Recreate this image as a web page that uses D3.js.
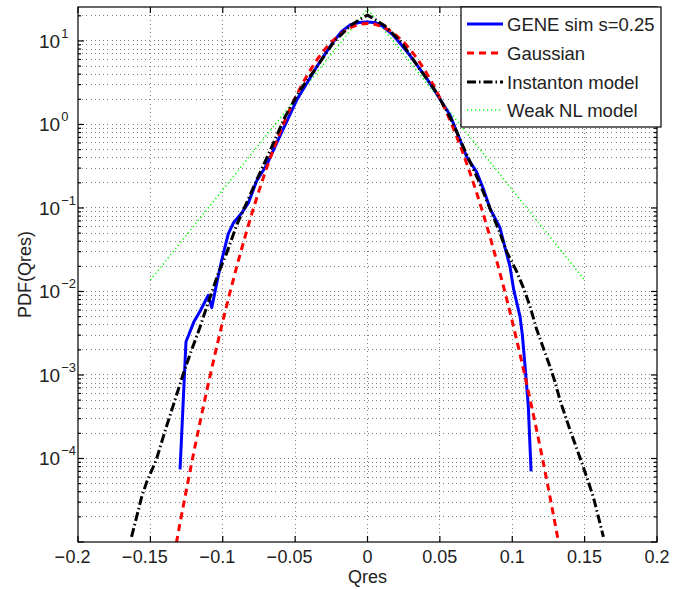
<!DOCTYPE html>
<html><head><meta charset="utf-8">
<script src="https://cdn.jsdelivr.net/npm/d3@7"></script>
<style>body{margin:0;background:#fff}svg{display:block}text{font-family:"Liberation Sans",Arial,Helvetica,sans-serif;fill:#222}</style>
</head><body>
<svg id="c" width="692" height="589"></svg>
<script>
// ---- data ----
const geneX = [-0.1295,-0.1254,-0.1200,-0.1157,-0.1100,-0.1076,-0.1042,-0.1007,-0.0962,-0.0927,-0.0869,-0.0823,-0.0766,-0.0696,-0.0594,-0.0489,-0.0420,-0.0351,-0.0290,-0.0236,-0.0180,-0.0122,-0.006,0,0.006,0.011,0.0170,0.0225,0.0285,0.034,0.0400,0.0455,0.051,0.057,0.0625,0.0685,0.0754,0.0800,0.0846,0.0915,0.0955,0.0984,0.1010,0.1054,0.1070,0.1088,0.1111,0.1130];
const geneY = [7.4e-5,2.5e-3,4.3e-3,5.8e-3,9.0e-3,6.4e-3,0.0125,0.0238,0.049,0.066,0.087,0.115,0.21,0.33,0.80,1.96,3.1,4.9,7.1,9.8,12.9,15.5,16.6,16.9,16.5,14.8,12.1,9.4,7.0,5.2,3.75,2.7,1.9,1.3,0.75,0.41,0.27,0.17,0.099,0.058,0.031,0.020,0.0105,5.0e-3,3.0e-3,1.3e-3,4.2e-4,7.0e-5];

const gaussX = [-0.135,-0.13,-0.125,-0.12,-0.115,-0.11,-0.105,-0.10,-0.095,-0.09,-0.085,-0.08,-0.075,-0.07,-0.065,-0.06,-0.055,-0.05,-0.045,-0.04,-0.035,-0.03,-0.025,-0.02,-0.015,-0.01,-0.005,0,0.005,0.01,0.015,0.02,0.025,0.03,0.035,0.04,0.045,0.05,0.055,0.06,0.065,0.07,0.075,0.08,0.085,0.09,0.095,0.10,0.105,0.11,0.115,0.12,0.125,0.13,0.135];
const gaussY = [5.1e-6,1.52e-5,4.34e-5,1.19e-4,3.11e-4,7.84e-4,1.89e-3,4.40e-3,9.79e-3,0.0209,0.0429,0.0845,0.160,0.290,0.504,0.842,1.35,2.08,3.07,4.35,5.92,7.73,9.68,11.6,13.45,14.9,15.85,16.2,15.85,14.9,13.45,11.6,9.68,7.73,5.92,4.35,3.07,2.08,1.35,0.842,0.504,0.290,0.160,0.0845,0.0429,0.0209,9.79e-3,4.40e-3,1.89e-3,7.84e-4,3.11e-4,1.19e-4,4.34e-5,1.52e-5,5.1e-6];

const instX = [-0.163,-0.156,-0.1525,-0.146,-0.1395,-0.133,-0.127,-0.1215,-0.116,-0.110,-0.103,-0.0975,-0.090,-0.0835,-0.0766,-0.0685,-0.057,-0.047,-0.035,-0.0236,-0.0122,-0.005,0,0.005,0.0122,0.0236,0.035,0.047,0.057,0.0685,0.0766,0.0836,0.0915,0.0961,0.103,0.1076,0.1123,0.1169,0.1261,0.1295,0.133,0.1399,0.1445,0.1491,0.156,0.163];
const instY = [1.15e-5,3.47e-5,5.25e-5,9.55e-5,2.24e-4,5.01e-4,1.07e-3,2.0e-3,3.63e-3,7.41e-3,0.0166,0.0282,0.0646,0.115,0.216,0.437,1.23,2.51,4.90,9.55,15.1,18.2,20.4,18.2,15.1,9.55,4.90,2.51,1.23,0.437,0.216,0.109,0.050,0.030,0.0174,0.0112,6.6e-3,3.5e-3,1.26e-3,8.3e-4,5.0e-4,2.19e-4,1.32e-4,7.9e-5,3.47e-5,1.15e-5];

const weakX = [-0.15,-0.125,-0.1,-0.075,-0.05,-0.025,0,0.025,0.05,0.075,0.1,0.125,0.15];
const weakY = [0.0137,0.0476,0.165,0.574,1.99,6.93,24.1,6.93,1.99,0.574,0.165,0.0476,0.0137];

const xTicks = [-0.2,-0.15,-0.1,-0.05,0,0.05,0.1,0.15,0.2];
const yTickExp = [-4,-3,-2,-1,0,1];
const legendLabels = ["GENE sim s=0.25","Gaussian","Instanton model","Weak NL model"];

// ---- layout ----
const L=78,R=657,T=7,B=542;
const svg=d3.select("#c");
const x=d3.scaleLinear().domain([-0.2,0.2]).range([L,R]);
const y=d3.scaleLog().domain([1e-5,25.5]).range([B,T]);

svg.append("defs").append("clipPath").attr("id","clip").append("rect")
  .attr("x",L).attr("y",T).attr("width",R-L).attr("height",B-T);

// grid
const grid=svg.append("g").attr("stroke","#000").attr("stroke-opacity",0.5).attr("stroke-width",1).attr("stroke-dasharray","1,3.2").attr("fill","none").attr("shape-rendering","crispEdges");
xTicks.slice(1,-1).forEach(v=>grid.append("line").attr("x1",x(v)).attr("x2",x(v)).attr("y1",T).attr("y2",B));
const yMinor=[];
for(let e=-5;e<=1;e++){for(let m=1;m<=9;m++){const v=m*Math.pow(10,e);if(v>1e-5&&v<25.5)yMinor.push({v,major:m===1});}}
yMinor.forEach(d=>grid.append("line").attr("x1",L).attr("x2",R).attr("y1",y(d.v)).attr("y2",y(d.v)));

// series
const plot=svg.append("g").attr("clip-path","url(#clip)");
function draw(xs,ys,stroke,w,dash){
  const pts=xs.map((v,i)=>[v,ys[i]]);
  const line=d3.line().x(d=>x(d[0])).y(d=>y(d[1]));
  const p=plot.append("path").attr("d",line(pts)).attr("fill","none").attr("stroke",stroke).attr("stroke-width",w).attr("stroke-linejoin","round");
  if(dash)p.attr("stroke-dasharray",dash);
}
draw(weakX,weakY,"#00ff00",1.6,"1.2,2.8");
draw(geneX,geneY,"#0000ff",3,null);
draw(gaussX,gaussY,"#ff0000",3,"7,5");
draw(instX,instY,"#000000",3,"9,3,1.5,3");

// axes frame + ticks
const ax=svg.append("g").attr("stroke","#000").attr("stroke-width",1.2).attr("fill","none");
ax.append("rect").attr("x",L).attr("y",T).attr("width",R-L).attr("height",B-T);
xTicks.forEach(v=>{
  ax.append("line").attr("x1",x(v)).attr("x2",x(v)).attr("y1",B).attr("y2",B-6);
  ax.append("line").attr("x1",x(v)).attr("x2",x(v)).attr("y1",T).attr("y2",T+6);
});
yMinor.concat([{v:1e-5,major:true}]).forEach(d=>{
  const len=d.major?6:3;
  ax.append("line").attr("x1",L).attr("x2",L+len).attr("y1",y(d.v)).attr("y2",y(d.v));
  ax.append("line").attr("x1",R).attr("x2",R-len).attr("y1",y(d.v)).attr("y2",y(d.v));
});

// x tick labels (number centred on tick, minus hanging to the left)
xTicks.forEach(v=>{
  const s=Math.abs(v).toString();
  const t=svg.append("text").attr("x",x(v)).attr("y",563).attr("text-anchor","middle").attr("font-size",18).text(s);
  if(v<0){
    const w=t.node().getComputedTextLength();
    svg.append("text").attr("x",x(v)-w/2-0.5).attr("y",563).attr("text-anchor","end").attr("font-size",18).text("\u2212");
  }
});
// y tick labels 10^e
yTickExp.forEach(e=>{
  const yy=y(Math.pow(10,e));
  const t=svg.append("text").attr("x",39).attr("y",yy+7).attr("font-size",19);
  t.append("tspan").text("10");
  t.append("tspan").attr("font-size",13).attr("dy",-10).attr("dx",1).text(e<0?"\u2212"+Math.abs(e):String(e));
});

// axis labels
svg.append("text").attr("x",(L+R)/2).attr("y",583).attr("text-anchor","middle").attr("font-size",18).text("Qres");
svg.append("text").attr("transform",`translate(31,${(T+B)/2}) rotate(-90)`).attr("text-anchor","middle").attr("font-size",18).text("PDF(Qres)");

// legend
const lg=svg.append("g");
lg.append("rect").attr("x",461).attr("y",7).attr("width",200).attr("height",120).attr("fill","#fff").attr("stroke","#000").attr("stroke-width",1.2);
const lStyles=[["#0000ff",3,null],["#ff0000",3,"7,5"],["#000000",3,"9,3,1.5,3"],["#00ff00",1.6,"1.2,2.8"]];
const rowY=[24,53,82,110];
legendLabels.forEach((lab,i)=>{
  const l=lg.append("line").attr("x1",467).attr("x2",503).attr("y1",rowY[i]).attr("y2",rowY[i])
    .attr("stroke",lStyles[i][0]).attr("stroke-width",lStyles[i][1]);
  if(lStyles[i][2])l.attr("stroke-dasharray",lStyles[i][2]);
  lg.append("text").attr("x",507).attr("y",rowY[i]+6.5).attr("font-size",18.5).text(lab);
});
</script>
</body></html>
